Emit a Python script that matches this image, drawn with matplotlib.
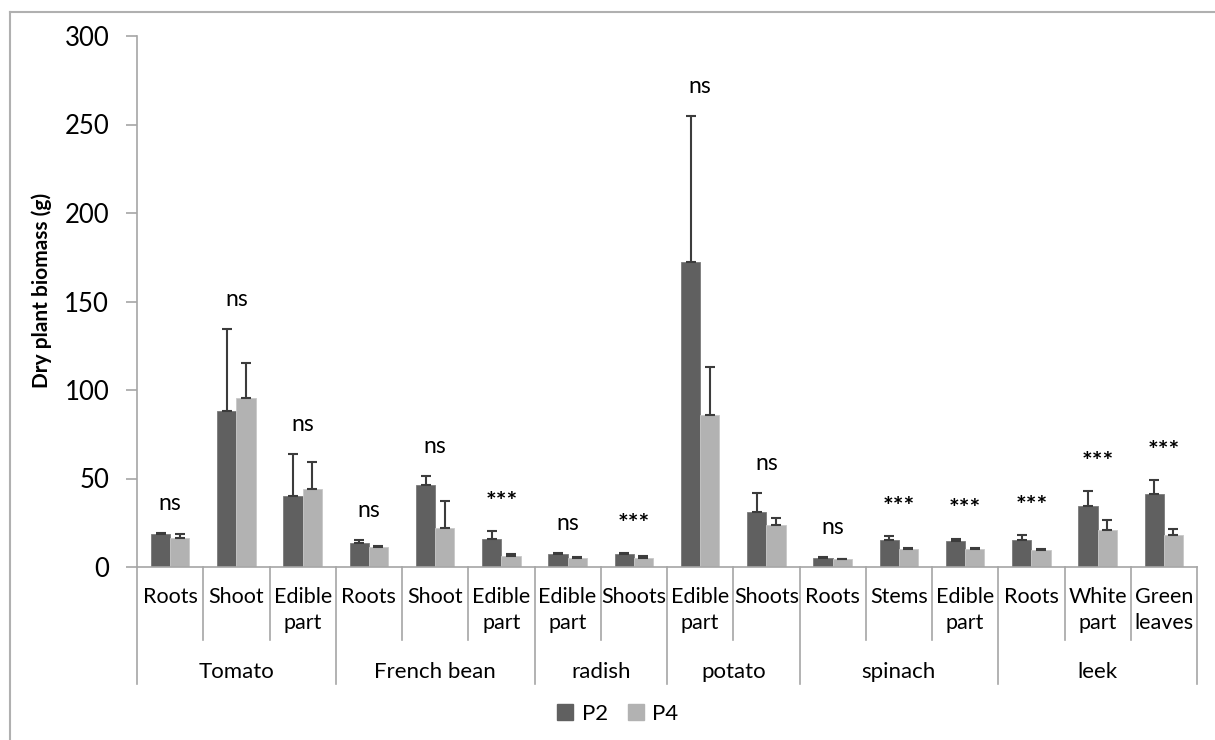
import numpy as np
import matplotlib
matplotlib.use("Agg")
import matplotlib.pyplot as plt
from matplotlib.transforms import blended_transform_factory
from matplotlib.patches import Patch
from matplotlib.lines import Line2D

plt.rcParams['font.family'] = ['Lato', 'DejaVu Sans']

# -----------------------------
# Data (dry biomass, g)
# -----------------------------
parts = ['Roots', 'Shoot', 'Edible\npart',
         'Roots', 'Shoot', 'Edible\npart',
         'Edible\npart', 'Shoots',
         'Edible\npart', 'Shoots',
         'Roots', 'Stems', 'Edible\npart',
         'Roots', 'White\npart', 'Green\nleaves']
crops = ['Tomato', 'French bean', 'radish', 'potato', 'spinach', 'leek']
crop_sizes = [3, 3, 2, 2, 3, 3]

p2 = [18.4, 88.4, 40.0, 13.3, 46.2, 16.0, 7.3, 7.3,
      172.2, 30.8, 4.9, 15.2, 14.7, 15.2, 34.6, 41.3]
p2_err = [0.9, 46.0, 24.1, 1.9, 5.1, 4.3, 0.4, 0.4,
          82.7, 10.9, 0.6, 2.1, 1.3, 3.0, 8.4, 7.6]
p4 = [16.2, 95.5, 44.2, 11.3, 22.0, 6.2, 5.3, 5.3,
      86.1, 23.7, 4.3, 10.2, 10.2, 9.4, 21.1, 17.9]
p4_err = [2.7, 19.9, 15.4, 0.7, 15.4, 0.9, 0.5, 1.1,
          26.7, 3.9, 0.5, 0.3, 0.7, 0.9, 5.6, 3.4]
signif = ['ns', 'ns', 'ns', 'ns', 'ns', '***', 'ns', '***',
          'ns', 'ns', 'ns', '***', '***', '***', '***', '***']

# -----------------------------
# Figure / axes in pixel terms
# -----------------------------
W, H = 1215, 740
fig = plt.figure(figsize=(W / 100, H / 100), dpi=100)
ax_l, ax_r, ax_t, ax_b = 137, 1197, 36, 567
ax = fig.add_axes([ax_l / W, 1 - ax_b / H, (ax_r - ax_l) / W, (ax_b - ax_t) / H])

dark, light = '#606060', '#b2b2b2'
axis_col = '#a6a6a6'

x = np.arange(len(parts))
bw = 0.29
ax.bar(x - bw / 2, p2, bw, color=dark, edgecolor='#7a7a7a', linewidth=0.6, label='P2', zorder=2)
ax.bar(x + bw / 2, p4, bw, color=light, edgecolor='#c8c8c8', linewidth=0.6, label='P4', zorder=2)

# upper error bars only
ekw = dict(fmt='none', ecolor='#3c3c3c', elinewidth=1.5, capsize=3.8, capthick=1.5, zorder=3)
ax.errorbar(x - bw / 2, p2, yerr=[np.zeros(len(p2)), p2_err], **ekw)
ax.errorbar(x + bw / 2, p4, yerr=[np.zeros(len(p4)), p4_err], **ekw)

# significance labels above the taller error bar
for i, s in enumerate(signif):
    top = max(p2[i] + p2_err[i], p4[i] + p4_err[i])
    if s == 'ns':
        ax.text(x[i], top + 13, s, ha='center', va='baseline', fontsize=16.5, color='black')
    else:
        ax.text(x[i], top + 12, s, ha='center', va='baseline', fontsize=18,
                fontweight='bold', color='black')

ax.set_xlim(-0.5, len(parts) - 0.5)
ax.set_ylim(0, 300)
ax.set_yticks(np.arange(0, 301, 50))
ax.tick_params(axis='y', length=8, width=1.2, color=axis_col, labelsize=18.5, pad=12)
ax.set_xticks([])
for side in ['top', 'right']:
    ax.spines[side].set_visible(False)
ax.spines['left'].set_color(axis_col)
ax.spines['bottom'].set_color(axis_col)
ax.spines['left'].set_linewidth(1.2)
ax.spines['bottom'].set_linewidth(1.2)

ax.set_ylabel('Dry plant biomass (g)', fontsize=15, fontweight='bold')
ax.yaxis.set_label_coords(-0.08, 0.52)

# -----------------------------
# Two-level category axis
# -----------------------------
def px_to_axes_y(py):
    return (ax_b - py) / (ax_b - ax_t)

trans = blended_transform_factory(ax.transData, ax.transAxes)
y_sub = px_to_axes_y(640)
y_grp = px_to_axes_y(684)

bounds = np.cumsum([0] + crop_sizes) - 0.5
for k in range(len(parts) + 1):
    xb = k - 0.5
    y_end = y_grp if xb in bounds else y_sub
    ax.add_line(Line2D([xb, xb], [0, y_end], transform=trans, color=axis_col,
                       linewidth=1.2, clip_on=False))

for i, lab in enumerate(parts):
    ax.text(x[i], px_to_axes_y(587), lab, transform=trans, ha='center', va='top',
            fontsize=15.5, linespacing=1.35, clip_on=False)

for g, name in enumerate(crops):
    xc = (bounds[g] + bounds[g + 1]) / 2
    ax.text(xc, px_to_axes_y(672), name, transform=trans, ha='center', va='center',
            fontsize=16, clip_on=False)

# legend
handles = [Patch(color=dark, label='P2'), Patch(color=light, label='P4')]
fig.legend(handles=handles, loc='center', bbox_to_anchor=(618 / W, 1 - 714 / H), ncol=2,
           frameon=False, fontsize=16, handlelength=0.7, handleheight=0.7,
           handletextpad=0.4, columnspacing=0.9)

# chart area border
fig.add_artist(Line2D([10 / W, 1], [1 - 12 / H, 1 - 12 / H], transform=fig.transFigure,
                      color='#b0b0b0', linewidth=1.5))
fig.add_artist(Line2D([10 / W, 10 / W], [0, 1 - 12 / H], transform=fig.transFigure,
                      color='#b0b0b0', linewidth=1.5))

fig.savefig('out.png', dpi=100)
